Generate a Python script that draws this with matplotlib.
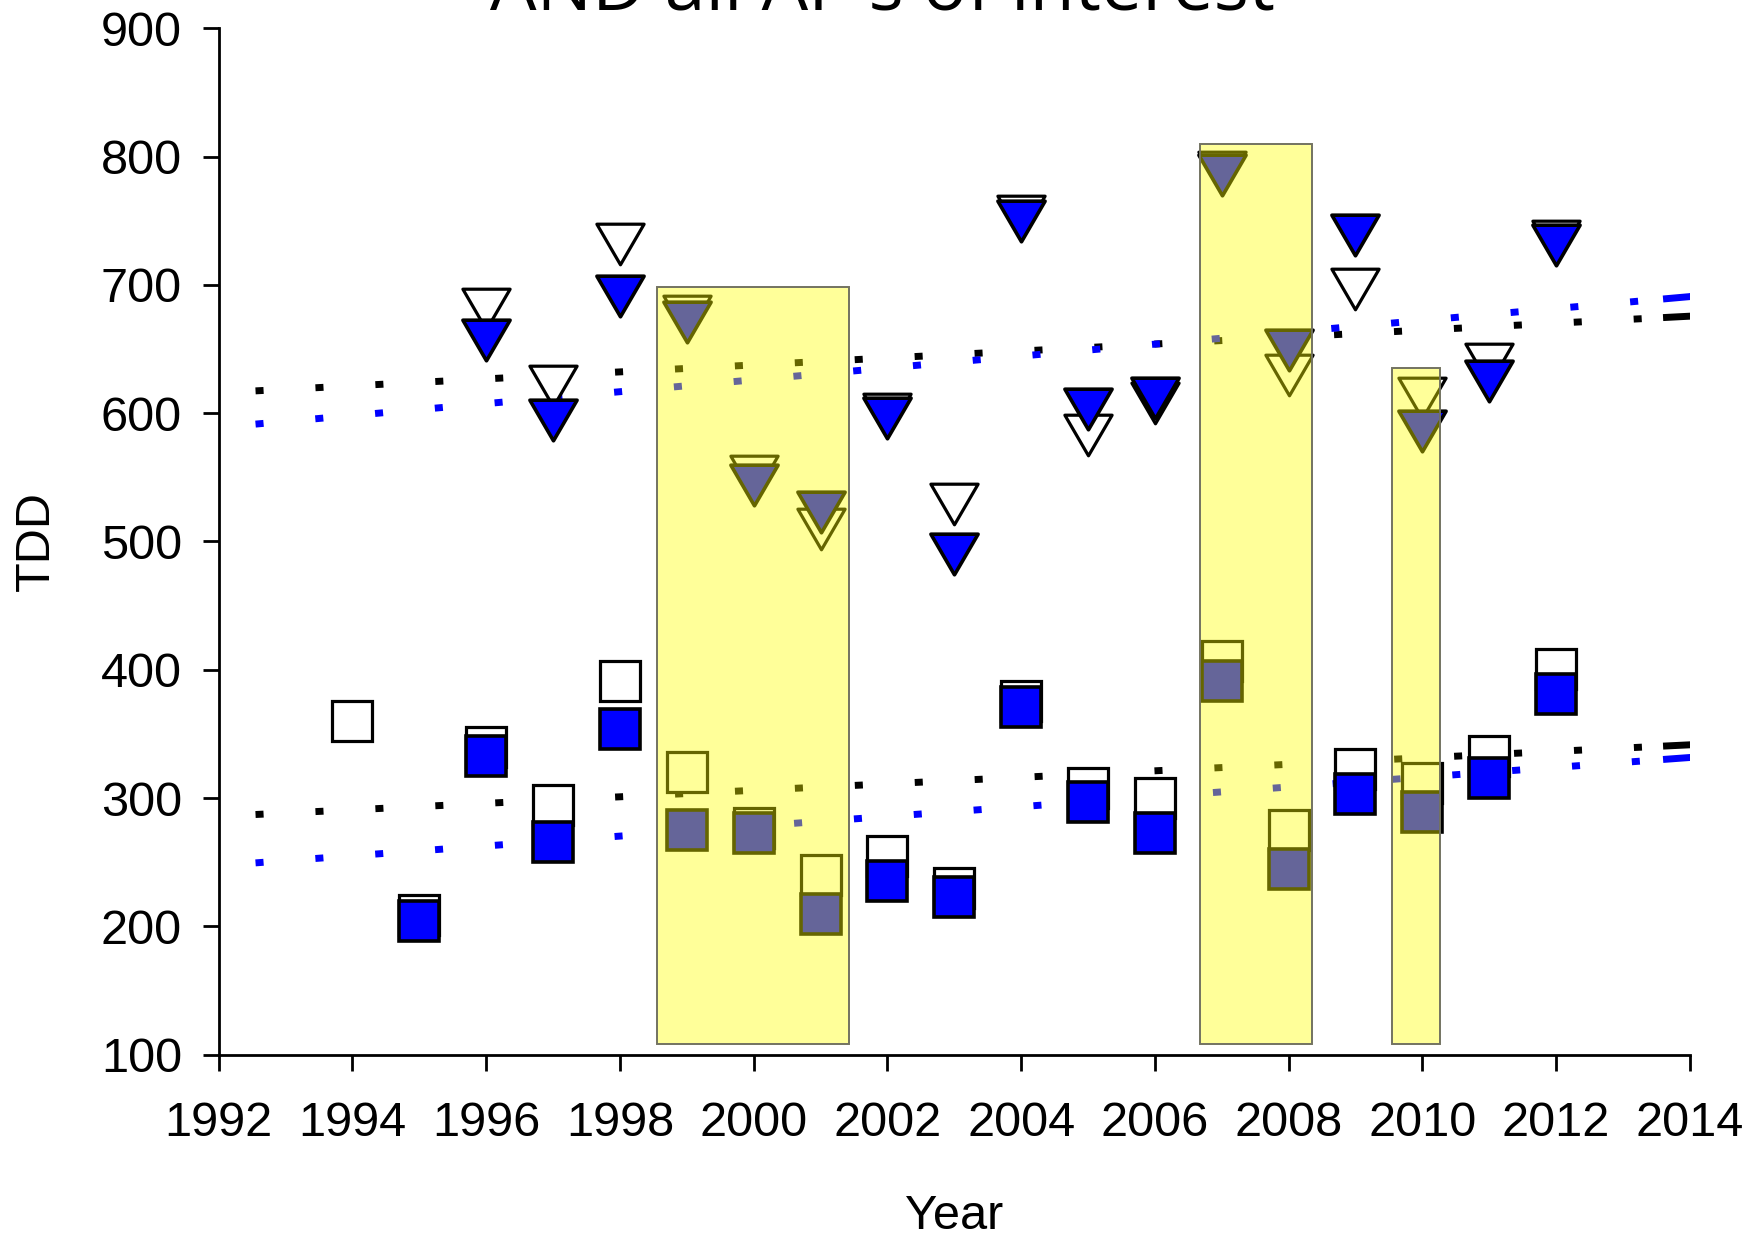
import matplotlib
matplotlib.use("Agg")
import matplotlib.pyplot as plt
from matplotlib.patches import Rectangle
from matplotlib.path import Path
import numpy as np

plt.rcParams['lines.scale_dashes'] = False
plt.rcParams['font.family'] = ['Liberation Sans', 'DejaVu Sans']

# ---------------- data ----------------
tri_years = [1996, 1997, 1998, 1999, 2000, 2001, 2002, 2003, 2004,
             2005, 2006, 2007, 2008, 2009, 2010, 2011, 2012]
tri_open = [681, 621, 732, 676, 551, 510, 599, 529, 754,
            583, 608, 788, 630, 697, 612, 638, 734]
tri_filled = [657, 595, 691, 671, 544, 523, 596, 490, 750,
              603, 612, 786, 649, 739, 586, 625, 731]

sq_open_years = [1994, 1995, 1996, 1997, 1998, 1999, 2000, 2001, 2002, 2003,
                 2004, 2005, 2006, 2007, 2008, 2009, 2010, 2011, 2012]
sq_open = [360, 209, 340, 295, 391, 320, 277, 240, 255, 230,
           376, 308, 300, 407, 275, 323, 312, 333, 401]
sq_filled_years = [1995, 1996, 1997, 1998, 1999, 2000, 2001, 2002, 2003,
                   2004, 2005, 2006, 2007, 2008, 2009, 2010, 2011, 2012]
sq_filled = [204, 333, 266, 354, 275, 273, 210, 235, 223,
             371, 297, 273, 391, 245, 303, 289, 316, 381]

# trend lines (start/end)
trend_x = [1992.55, 2014.07]
trend_upper_open = [617.4, 675.8]
trend_upper_filled = [591.5, 691.2]
trend_lower_open = [287.2, 341.7]
trend_lower_filled = [249.5, 331.9]
trend_tail_x = [2013.6, 2014.07]

# highlighted periods
span_start = [1998.55, 2006.68, 2009.55]
span_end = [2001.42, 2008.35, 2010.27]
span_top = [698, 810, 635.5]
span_bottom = 108

xticks = list(range(1992, 2015, 2))
yticks = list(range(100, 901, 100))

title = "AND all AP's of interest"

# ---------------- figure ----------------
fig = plt.figure(figsize=(17.5, 12.36), dpi=100)
ax = fig.add_axes([0.125, 0.1467, 0.8406, 0.8304])

BLUE = '#0000FF'
tri_marker = Path([(-1, 0.86), (1, 0.86), (0, -0.86), (-1, 0.86)],
                  [Path.MOVETO, Path.LINETO, Path.LINETO, Path.CLOSEPOLY])

def tail(vals):
    return np.interp(trend_tail_x, trend_x, vals)

dash = (0, (5.8, 37.4))
for vals, col in [(trend_upper_open, 'black'), (trend_upper_filled, BLUE),
                  (trend_lower_open, 'black'), (trend_lower_filled, BLUE)]:
    ax.plot(trend_x, vals, color=col, lw=5.0, linestyle=dash,
            solid_capstyle='butt', dash_capstyle='butt', zorder=2)
    ax.plot(trend_tail_x, tail(vals), color=col, lw=5.0,
            solid_capstyle='butt', zorder=2)

ax.plot(tri_years, tri_open, linestyle='none', marker=tri_marker,
        ms=34, mfc='white', mec='black', mew=2.3, zorder=3)
ax.plot(sq_open_years, sq_open, linestyle='none', marker='s',
        ms=28.5, mfc='white', mec='black', mew=2.3, zorder=3)
ax.plot(tri_years, tri_filled, linestyle='none', marker=tri_marker,
        ms=34, mfc=BLUE, mec='black', mew=2.6, zorder=4)
ax.plot(sq_filled_years, sq_filled, linestyle='none', marker='s',
        ms=28.5, mfc=BLUE, mec='black', mew=2.6, zorder=4)

for s, e, t in zip(span_start, span_end, span_top):
    ax.add_patch(Rectangle((s, span_bottom), e - s, t - span_bottom,
                           facecolor=(1, 1, 0, 0.4),
                           edgecolor=(0.45, 0.45, 0.38), lw=1.4, zorder=5))

ax.set_xlim(1992, 2014)
ax.set_ylim(100, 900)
ax.set_xticks(xticks)
ax.set_yticks(yticks)
ax.tick_params(axis='both', direction='out', length=11.5, width=2,
               labelsize=35)
ax.tick_params(axis='y', pad=15)
ax.tick_params(axis='x', pad=22)
for side in ['top', 'right']:
    ax.spines[side].set_visible(False)
for side in ['left', 'bottom']:
    ax.spines[side].set_linewidth(2)

ax.set_xlabel('Year', fontsize=35)
ax.set_ylabel('TDD', fontsize=35)
ax.xaxis.set_label_coords(0.5, -0.158)
ax.yaxis.set_label_coords(-0.124, 0.5)
ax.xaxis.label.set_va('center')
ax.yaxis.label.set_va('center')

fig.text(0.504, 1 - 10 / 1236, title, ha='center', va='baseline',
         fontsize=53, family=['Open Sans', 'DejaVu Sans'])

fig.savefig('out.png', dpi=100)
